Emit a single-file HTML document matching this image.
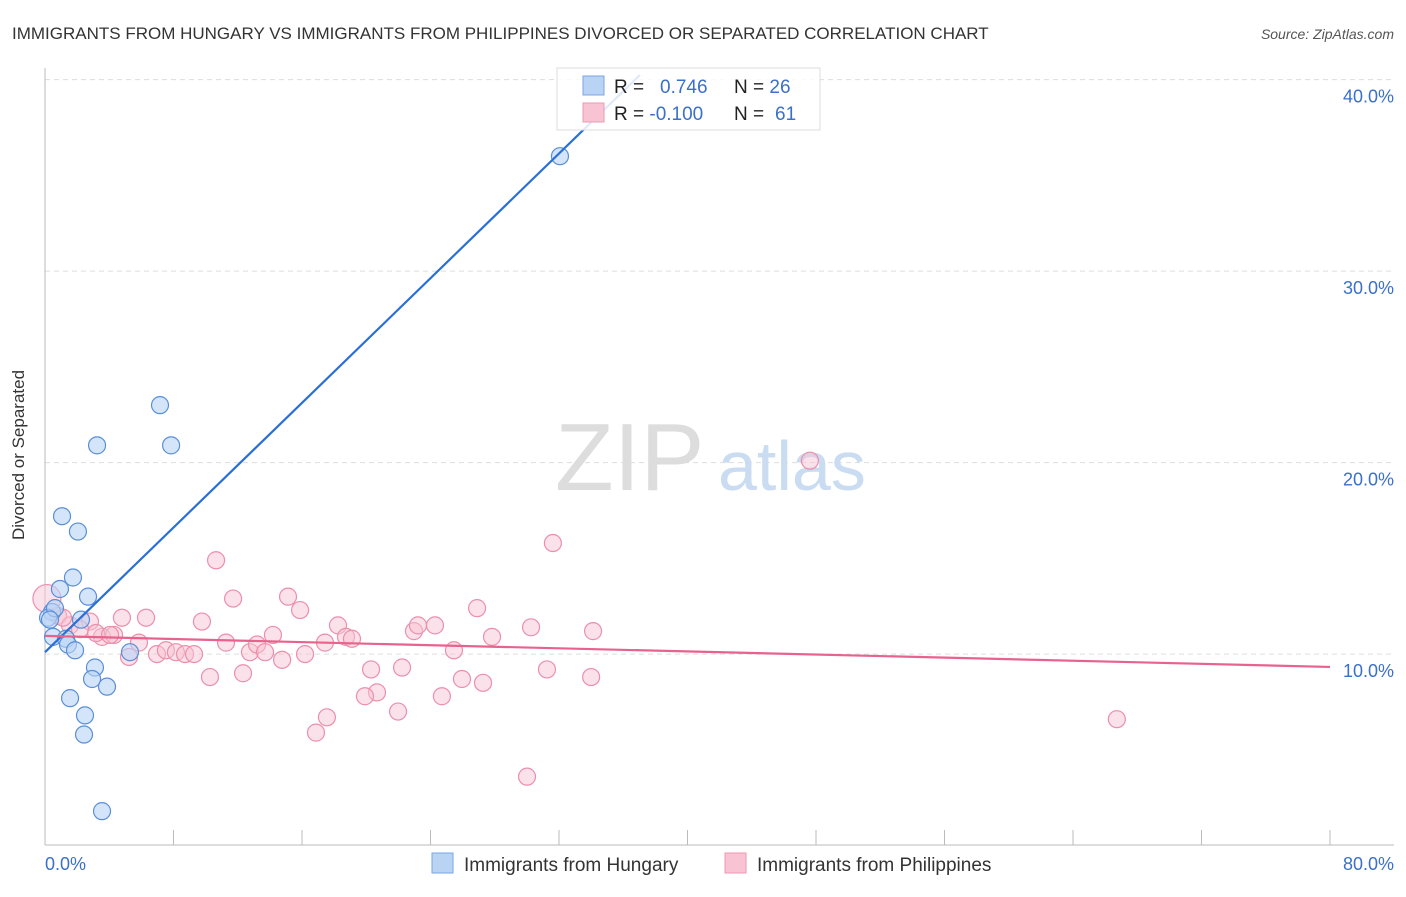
<!DOCTYPE html>
<html><head><meta charset="utf-8"><style>
body{margin:0;background:#fff;font-family:"Liberation Sans",sans-serif;}
svg text{font-family:"Liberation Sans",sans-serif;}
</style></head><body>
<svg width="1406" height="892" viewBox="0 0 1406 892">
<text x="12" y="39" font-size="17" fill="#333">IMMIGRANTS FROM HUNGARY VS IMMIGRANTS FROM PHILIPPINES DIVORCED OR SEPARATED CORRELATION CHART</text>
<text x="1394" y="39" font-size="14" fill="#555" font-style="italic" text-anchor="end">Source: ZipAtlas.com</text>
<g id="grid"></g>
<line x1="45" y1="68" x2="45" y2="845" stroke="#bbb"/>
<line x1="45" y1="845" x2="1394" y2="845" stroke="#bbb"/>
<g id="xticks"></g>
<g id="yticks"></g>
<text x="555" y="490" font-size="96" fill="#ddd" font-family="Liberation Serif">ZIP</text>
<text x="718" y="490" font-size="70" fill="#c9dcf2">atlas</text>
<g id="pink"></g>
<g id="blue"></g>
<g id="lines"></g>
<text x="24" y="455" font-size="17" fill="#333" text-anchor="middle" transform="rotate(-90 24 455)">Divorced or Separated</text>
<text x="45" y="870" font-size="18" fill="#3a70c9">0.0%</text>
<text x="1394" y="870" font-size="18" fill="#3a70c9" text-anchor="end">80.0%</text>
<g>
<rect x="557" y="68" width="263" height="62" fill="#fff" fill-opacity="0.85" stroke="#ddd"/>
<rect x="583" y="76" width="21" height="19" fill="#b9d3f5" stroke="#7aa6e3"/>
<rect x="583" y="103" width="21" height="19" fill="#f8c3d3" stroke="#ec9ab3"/>
<text x="614" y="93" font-size="19" fill="#222">R = <tspan x="660" fill="#3a70c9">0.746</tspan><tspan x="734" fill="#222">N = </tspan><tspan fill="#3a70c9">26</tspan></text>
<text x="614" y="120" font-size="19" fill="#222">R = <tspan fill="#3a70c9">-0.100</tspan><tspan x="734" fill="#222">N = </tspan><tspan x="775" fill="#3a70c9">61</tspan></text>
</g>
<g>
<rect x="432" y="853" width="21" height="20" fill="#b9d3f5" stroke="#7aa6e3"/>
<text x="464" y="871" font-size="19" fill="#333">Immigrants from Hungary</text>
<rect x="725" y="853" width="21" height="20" fill="#f8c3d3" stroke="#ec9ab3"/>
<text x="757" y="871" font-size="19" fill="#333">Immigrants from Philippines</text>
</g>
</svg>
<script>
const yTicks=[10,20,30,40];
const xTickVals=[0,8,16,24,32,40,48,56,64,72,80];
const hungaryX=[0.44,0.19,0.62,0.31,0.5,1.31,1.06,2.05,1.74,0.93,2.68,2.24,1.43,1.87,5.29,3.11,2.93,3.86,1.56,2.49,2.43,3.55,3.24,7.85,7.16,32.06];
const hungaryY=[12.2,11.9,12.4,11.8,10.9,10.8,17.2,16.4,14.0,13.4,13.0,11.8,10.5,10.2,10.1,9.3,8.7,8.3,7.7,6.8,5.8,1.8,20.9,20.9,23.0,36.0];
const philX=[0.12,0.81,1.56,2.8,3.55,4.3,4.79,6.29,5.85,6.97,7.53,8.15,8.72,9.28,5.23,10.65,11.71,9.77,11.27,10.27,12.33,12.76,13.2,13.7,14.19,14.76,15.13,15.88,16.19,17.43,18.24,18.74,19.11,20.3,20.67,19.92,17.55,16.87,21.98,22.23,22.97,23.22,24.28,25.46,24.71,25.96,27.27,26.9,27.83,30.26,31.25,31.62,30.01,34.0,34.12,47.62,66.73,2.18,3.18,1.12,4.05];
const philY=[12.9,12.0,11.5,11.7,10.9,11.0,11.9,11.9,10.6,10.0,10.2,10.1,10.0,10.0,9.85,14.9,12.9,11.7,10.6,8.8,9.0,10.1,10.5,10.1,11.0,9.7,13.0,12.3,10.0,10.6,11.5,10.9,10.8,9.2,8.0,7.8,6.7,5.9,7.0,9.3,11.2,11.5,11.5,10.2,7.8,8.7,8.5,12.4,10.9,11.4,9.2,15.8,3.6,8.8,11.2,20.1,6.6,11.3,11.1,11.9,11.0];
const hungaryLineX=[0,37.04];
const hungaryLineY=[10.1,40.24];
const philLineX=[0,80];
const philLineY=[10.95,9.33];
const NS='http://www.w3.org/2000/svg';
const sx=v=>45+v/80*1285;
const sy=v=>845.6-v*19.15;
function mk(t,a,p){const e=document.createElementNS(NS,t);for(const k in a)e.setAttribute(k,a[k]);p.appendChild(e);return e;}
const grid=document.getElementById('grid'),yt=document.getElementById('yticks'),xt=document.getElementById('xticks');
yTicks.forEach(v=>{
 const l=mk('line',{x1:45,x2:1394,y1:sy(v),y2:sy(v),stroke:'#ddd','stroke-dasharray':'5,4'},grid);
 
 
 const t=mk('text',{x:1394,y:sy(v)+23,'font-size':18,fill:'#3a70c9','text-anchor':'end'},yt);
 t.textContent=v.toFixed(1)+'%';
 
 
});
xTickVals.forEach(v=>{
 const l=mk('line',{x1:sx(v),x2:sx(v),y1:830,y2:845,stroke:'#bbb'},xt);
 
 
});
const pg=document.getElementById('pink');
philX.forEach((x,i)=>{
 const c=mk('circle',{cx:sx(x),cy:sy(philY[i]),r:i==0?14:8.5,fill:'#f8c3d3','fill-opacity':0.5,stroke:'#ec8fac','stroke-width':1.2},pg);
 
 
});
const bg=document.getElementById('blue');
hungaryX.forEach((x,i)=>{
 const c=mk('circle',{cx:sx(x),cy:sy(hungaryY[i]),r:8.5,fill:'#b9d3f5','fill-opacity':0.6,stroke:'#5a8fd8','stroke-width':1.2},bg);
 
 
});
const lg=document.getElementById('lines');
const bl=mk('line',{x1:sx(hungaryLineX[0]),y1:sy(hungaryLineY[0]),x2:sx(hungaryLineX[1]),y2:sy(hungaryLineY[1]),stroke:'#2a6fd6','stroke-width':2.2},lg);


const pl=mk('line',{x1:sx(philLineX[0]),y1:sy(philLineY[0]),x2:sx(philLineX[1]),y2:sy(philLineY[1]),stroke:'#e8628e','stroke-width':2.2},lg);


</script>
</body></html>
